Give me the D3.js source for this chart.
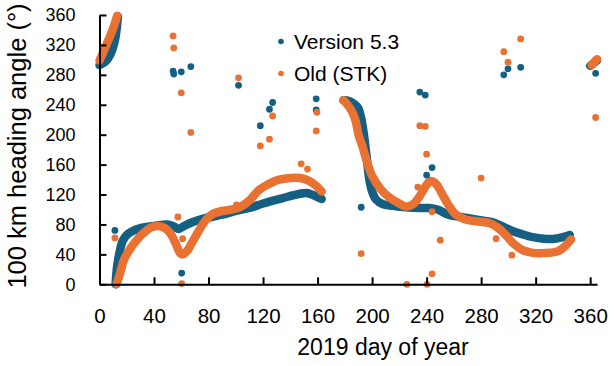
<!DOCTYPE html>
<html>
<head>
<meta charset="utf-8">
<style>
html, body { margin: 0; padding: 0; background: #fff; }
svg { display: block; font-family: "Liberation Sans", Arial, sans-serif; }
.axis path, .axis line { stroke: #000; stroke-width: 2; }
.axis text { fill: #000; }
.v53 { stroke: #156082; }
.stk { stroke: #e97132; }
</style>
</head>
<body>
<script src="https://cdn.jsdelivr.net/npm/d3@7"></script>
<script>
var width = 615
var height = 366

var xTicks = [0, 40, 80, 120, 160, 200, 240, 280, 320, 360]
var yTicks = [0, 40, 80, 120, 160, 200, 240, 280, 320, 360]

// Version 5.3, dense daily points, [day, heading]
var v53Jan = [[0, 293], [4, 297], [7.7, 306], [11.3, 326], [13.5, 358]]
var v53Spring = [[11.8, 0], [13, 25], [15, 45], [17, 58], [20, 66], [24, 71], [30, 75], [40, 78],
    [50, 80], [55, 77], [58, 74], [62, 78], [68, 83], [75, 87], [82, 90], [90, 93], [100, 98],
    [110, 102], [120, 108], [134, 115], [147, 121], [152, 122], [157, 119], [163, 114]]
var v53Autumn = [[179, 246], [183, 245], [187, 241], [190, 235], [192, 222], [194, 200], [196, 170],
    [198, 140], [200, 124], [203, 113], [208, 107], [215, 105], [225, 103], [235, 102], [242, 102],
    [248, 100], [256, 93], [265, 90], [278, 86], [288, 83], [295, 78], [302, 72], [310, 67],
    [318, 63], [326, 61], [334, 61], [340, 63], [345, 66]]
var v53Dec = [[360, 292], [362, 295], [365, 299]]
var v53Scatter = [[11.3, 72], [54, 285], [54.5, 281], [60, 284], [67, 291], [102, 266], [118, 212],
    [124.7, 234], [127, 243], [159, 248], [159, 233], [60.3, 15], [192, 103], [235, 257], [239, 253],
    [240, 146], [244, 156], [296.6, 280], [299.7, 288], [309, 290], [364, 282]]

// Old (STK)
var stkJan = [[0, 299], [5.5, 322], [10, 342], [13, 359]]
var stkSpring = [[12.5, 0], [15, 14], [18, 33], [22, 46], [26, 56], [32, 68], [38, 76], [43, 78],
    [48, 75], [52, 68], [56, 54], [59, 42], [61, 40], [64, 44], [68, 56], [73, 72], [78, 86],
    [83, 94], [90, 98], [97, 100], [103, 103], [110, 112], [117, 126], [123, 133], [130, 139],
    [140, 142], [147, 142], [153, 139], [158, 133], [163, 124]]
var stkAutumn = [[179, 246], [182, 240], [185, 232], [188, 218], [190, 200], [193, 184], [196, 165],
    [200, 145], [206, 128], [212, 117], [218, 110], [225, 104], [230, 107], [235, 118], [240, 133],
    [243, 138], [247, 134], [251, 122], [256, 106], [261, 94], [268, 87], [278, 84], [286, 82],
    [292, 76], [298, 66], [304, 54], [310, 46], [318, 42], [328, 42], [336, 44], [341, 50], [346, 60]]
var stkDec = [[361, 293], [363, 297], [365, 301]]
var stkScatter = [[11.3, 62], [54, 332], [54.5, 316], [60, 256], [67, 203], [102, 276], [118, 185],
    [124.7, 194], [127, 225], [148, 161], [152.6, 154], [159.5, 230], [159, 205], [57.5, 90], [61, 61],
    [60.3, 1], [100.5, 106], [192, 41], [235, 212], [239, 211], [240, 174], [233.5, 130], [244, 97],
    [250, 59], [244, 14], [225.5, 0], [240.3, 0], [280, 142], [291, 61], [302.5, 39], [296.6, 311],
    [299.7, 297], [309, 328], [364, 223]]

var series = [
    { name: 'Version 5.3', cls: 'v53', color: '#156082', runs: [v53Jan, v53Spring, v53Autumn, v53Dec], dots: v53Scatter },
    { name: 'Old (STK)', cls: 'stk', color: '#e97132', runs: [stkJan, stkSpring, stkAutumn, stkDec], dots: stkScatter }
]

var x = d3.scaleLinear().domain([0, 365]).range([99.5, 597])
var y = d3.scaleLinear().domain([0, 360]).range([284.3, 15])

var svg = d3.select('body').append('svg')
    .attr('width', width)
    .attr('height', height)

var line = d3.line()
    .x(function (d) { return x(d[0]) })
    .y(function (d) { return y(d[1]) })
    .curve(d3.curveCatmullRom.alpha(0.5))

var marks = svg.append('g')

series.forEach(function (s) {
    marks.append('g').selectAll('path')
        .data(s.runs)
        .enter().append('path')
        .attr('class', s.cls)
        .attr('d', line)
        .attr('fill', 'none')
        .attr('stroke-width', 8.5)
        .attr('stroke-linecap', 'round')
        .attr('stroke-linejoin', 'round')
})

series.forEach(function (s) {
    marks.append('g').selectAll('circle')
        .data(s.dots)
        .enter().append('circle')
        .attr('cx', function (d) { return x(d[0]) })
        .attr('cy', function (d) { return y(d[1]) })
        .attr('r', 3.4)
        .attr('fill', s.color)
})

var xAxis = svg.append('g')
    .attr('class', 'axis')
    .attr('transform', 'translate(0,' + y(0) + ')')
    .call(d3.axisBottom(x).tickValues(xTicks).tickSizeInner(-7).tickSizeOuter(0).tickPadding(24.5))
xAxis.selectAll('text').attr('font-size', 20.5)

var yAxis = svg.append('g')
    .attr('class', 'axis')
    .attr('transform', 'translate(' + x(0) + ',0)')
    .call(d3.axisLeft(y).tickValues(yTicks).tickSizeInner(-7).tickSizeOuter(0).tickPadding(24))
yAxis.selectAll('text').attr('font-size', 18)
svg.selectAll('.axis').attr('font-family', null)

svg.append('text')
    .attr('x', 383)
    .attr('y', 355)
    .attr('text-anchor', 'middle')
    .attr('font-size', 23)
    .text('2019 day of year')

svg.append('text')
    .attr('transform', 'translate(25.5,146) rotate(-90)')
    .attr('text-anchor', 'middle')
    .attr('font-size', 25.5)
    .text('100 km heading angle (°)')

var legend = svg.append('g').selectAll('g')
    .data(series)
    .enter().append('g')
    .attr('transform', function (d, i) { return 'translate(281,' + (41.5 + i * 32) + ')' })
legend.append('circle')
    .attr('r', 2.8)
    .attr('fill', function (d) { return d.color })
legend.append('text')
    .attr('x', 13)
    .attr('y', 7)
    .attr('font-size', 21)
    .text(function (d) { return d.name })
</script>
</body>
</html>
